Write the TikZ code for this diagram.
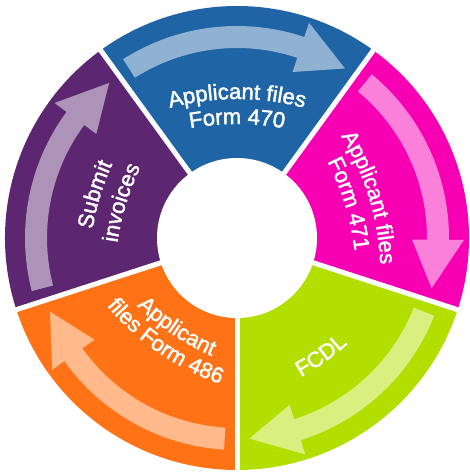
\documentclass[tikz,border=0pt]{standalone}
\usepackage{fontspec}
\setmainfont{Liberation Sans}
\newfontfamily\labfam{Liberation Sans}[FakeBold=1.8]
\usetikzlibrary{decorations.text}
\definecolor{cblue}{HTML}{1F64A4}
\definecolor{cpink}{HTML}{F700B3}
\definecolor{cgreen}{HTML}{B3DF00}
\definecolor{corange}{HTML}{FF7316}
\definecolor{cpurple}{HTML}{5C2670}
\newcommand{\labfont}{\labfam\fontsize{22}{26}\selectfont}
\newcommand{\ringsector}[3]{%
  \fill[#3] (#1:232) arc[start angle=#1, end angle=#2, radius=232]
    -- (#2:70) arc[start angle=#2, end angle=#1, radius=70] -- cycle;}
\newcommand{\ringarrow}[3]{%
  \pgfmathsetmacro{\hb}{#2+14}%
  \fill[#3!50!white] (#1:212) arc[start angle=#1, end angle=\hb, radius=212]
    -- (\hb:227) -- (#2:201) -- (\hb:175) -- (\hb:190)
    arc[start angle=\hb, end angle=#1, radius=190] -- cycle;}
% text on a gently bent arc, tops pointing outward (#2 = mid angle, #3 = baseline radius)
\newcommand{\toplabel}[3]{%
  \begin{scope}[rotate=#2-90]
    \path[arclabel={#1}] (0,#3-260) ++(125:260) arc[start angle=125, end angle=55, radius=260];
  \end{scope}}
% text on a gently bent arc, tops pointing inward
\newcommand{\botlabel}[3]{%
  \begin{scope}[rotate=#2+90]
    \path[arclabel={#1}] (0,260-#3) ++(-125:260) arc[start angle=-125, end angle=-55, radius=260];
  \end{scope}}
\tikzset{
  gapline/.style={white, line width=5pt},
  arclabel/.style={decorate, decoration={text along path, text={|\labfont|#1}, text align=center, text color=white}}
}
\begin{document}
\begin{tikzpicture}[x=1pt,y=1pt]
\useasboundingbox (0,0) rectangle (470,474);
\begin{scope}[shift={(237,236)}]
  % segments
  \ringsector{126}{54}{cblue}
  \ringsector{54}{-18}{cpink}
  \ringsector{-18}{-90}{cgreen}
  \ringsector{270}{198}{corange}
  \ringsector{198}{126}{cpurple}
  % arrows
  \ringarrow{122.5}{57.5}{cblue}
  \ringarrow{50.5}{-14.5}{cpink}
  \ringarrow{-21.5}{-86.5}{cgreen}
  \ringarrow{266.5}{201.5}{corange}
  \ringarrow{194.5}{129.5}{cpurple}
  % gaps
  \coordinate (c0) at (0,0);
  \foreach \a in {54,126,198,270,342} {\draw[gapline] (c0) -- (\a:240);}
  \fill[white] (c0) circle[radius=80];
  % labels
  \toplabel{Applicant files}{90}{139}
  \toplabel{Form 470}{90}{114}
  \toplabel{Applicant files}{17}{138}
  \toplabel{Form 471}{17}{113}
  \botlabel{FCDL}{-54.5}{152}
  \botlabel{Applicant}{236}{116}
  \botlabel{files Form 486}{235.5}{139}
  \toplabel{Submit}{163}{143}
  \toplabel{invoices}{163}{116}
\end{scope}
\end{tikzpicture}
\end{document}
